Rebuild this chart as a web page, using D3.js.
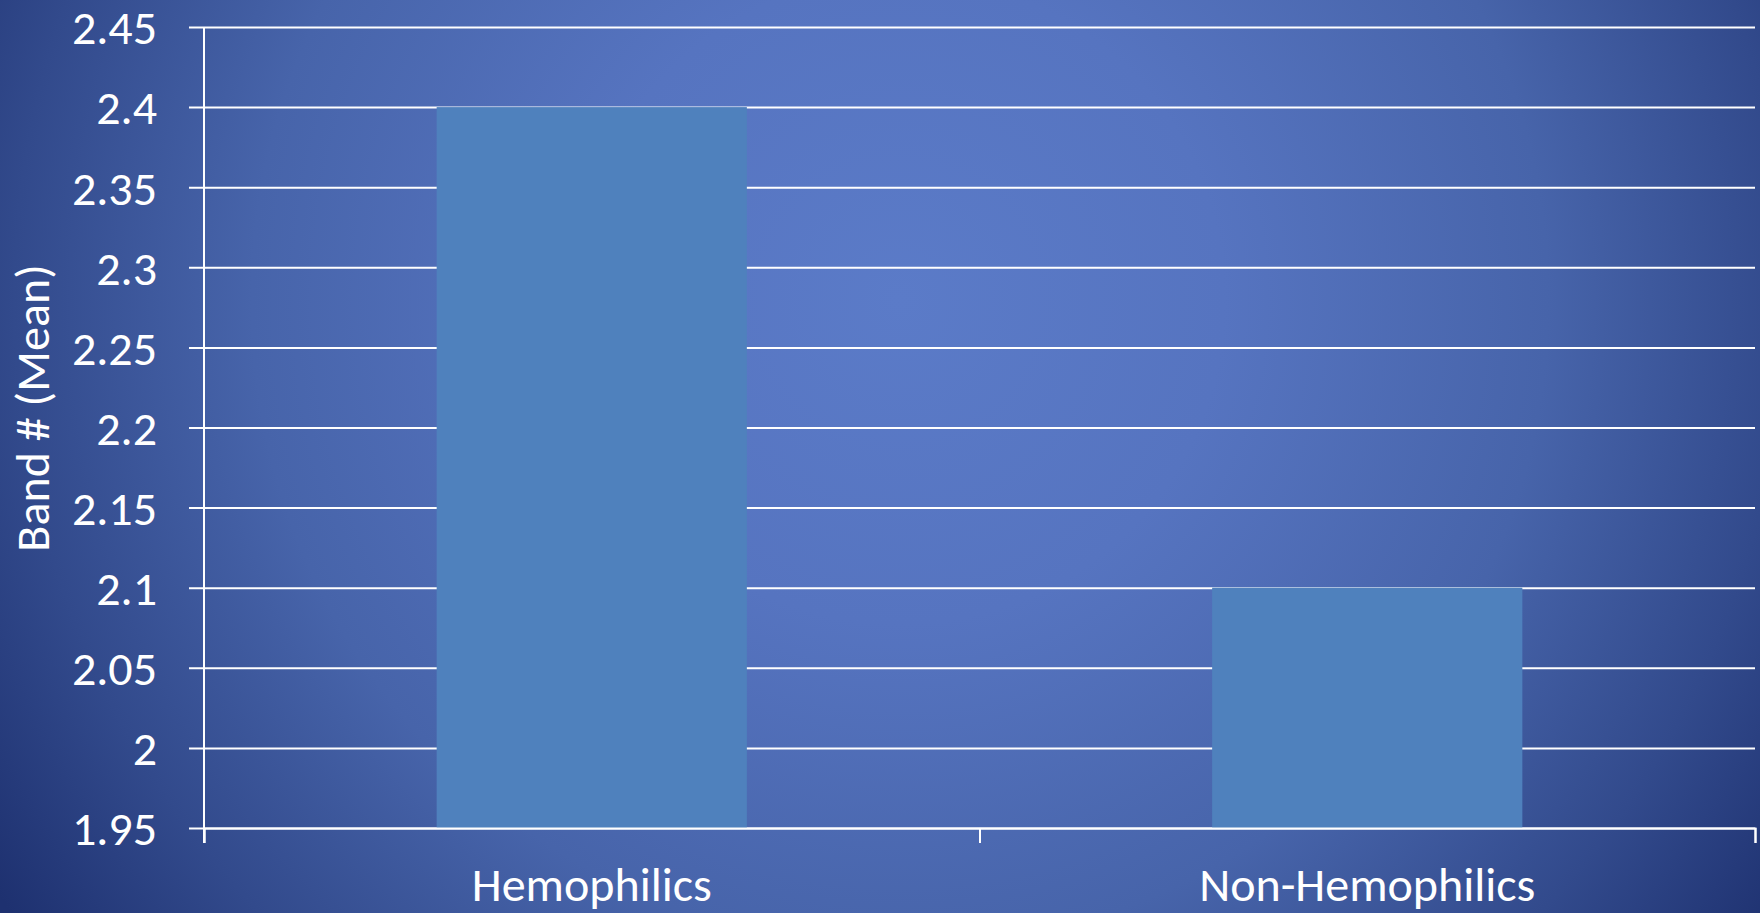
<!DOCTYPE html>
<html>
<head>
<meta charset="utf-8">
<script src="https://cdn.jsdelivr.net/npm/d3@7"></script>
<style>
  html, body { margin: 0; padding: 0; background: #1f3271; overflow: hidden; }
  svg { display: block; }
  .lbl { font-family: Carlito, Calibri, Lato, "Open Sans", sans-serif; fill: #ffffff; }
</style>
</head>
<body>
<svg id="chart" width="1760" height="913"></svg>
<script>
// Mean band number per group
const categories = ["Hemophilics", "Non-Hemophilics"];
const values = [2.4, 2.1];
const yTicks = [1.95, 2, 2.05, 2.1, 2.15, 2.2, 2.25, 2.3, 2.35, 2.4, 2.45];
const yTickLabels = ["1.95", "2", "2.05", "2.1", "2.15", "2.2", "2.25", "2.3", "2.35", "2.4", "2.45"];
const yTitle = "Band # (Mean)";

const W = 1760, H = 913;
const margin = { top: 27, right: 5, bottom: 85, left: 204 };
const pw = W - margin.left - margin.right;
const ph = H - margin.top - margin.bottom;
const fontSize = "48px";

const svg = d3.select("#chart");

// Slide-style radial background
const defs = svg.append("defs");
const grad = defs.append("radialGradient")
  .attr("id", "bg")
  .attr("gradientUnits", "userSpaceOnUse")
  .attr("cx", 900).attr("cy", 300).attr("r", 1080);
[[0, "#5b7bc8"], [0.3, "#5674c0"], [0.6, "#4764aa"], [0.82, "#324a8c"], [1, "#1e3170"]]
  .forEach(([o, c]) => grad.append("stop").attr("offset", o).attr("stop-color", c));
svg.append("rect").attr("width", W).attr("height", H).attr("fill", "url(#bg)");

const g = svg.append("g").attr("transform", `translate(${margin.left},${margin.top})`);

const y = d3.scaleLinear().domain([1.95, 2.45]).range([ph, 0]);
const x = d3.scaleBand().domain(categories).range([0, pw]).paddingInner(0.6).paddingOuter(0.3);
const xEdges = d3.scaleLinear().domain([0, categories.length]).range([0, pw]);

// Horizontal gridlines with short outward ticks
const yAxis = g.append("g")
  .call(d3.axisLeft(y).tickValues(yTicks).tickSize(-pw).tickFormat((d, i) => yTickLabels[i]));
yAxis.select(".domain").remove();
yAxis.selectAll(".tick line")
  .attr("x1", -15)
  .attr("stroke", "#ffffff").attr("stroke-width", 2);
yAxis.selectAll(".tick text")
  .attr("class", "lbl")
  .attr("x", -47)
  .attr("dy", "0.35em")
  .style("font-size", fontSize)
  .attr("text-anchor", "end");

// Bars
g.selectAll("rect.bar")
  .data(categories)
  .join("rect")
  .attr("class", "bar")
  .attr("x", d => x(d))
  .attr("width", x.bandwidth())
  .attr("y", (d, i) => y(values[i]))
  .attr("height", (d, i) => y(1.95) - y(values[i]))
  .attr("fill", "#4f81bd");

// Vertical axis line
g.append("line")
  .attr("x1", 0).attr("x2", 0)
  .attr("y1", 0).attr("y2", ph + 15)
  .attr("stroke", "#ffffff").attr("stroke-width", 2);

// Category axis: line plus boundary ticks
const xAxis = g.append("g")
  .attr("transform", `translate(0,${ph})`)
  .call(d3.axisBottom(xEdges).tickValues(d3.range(categories.length + 1)).tickSize(15).tickFormat(""));
xAxis.select(".domain").attr("stroke", "#ffffff").attr("stroke-width", 2);
xAxis.selectAll(".tick line").attr("stroke", "#ffffff").attr("stroke-width", 2);

// Category labels
const xLabels = g.append("g")
  .attr("transform", `translate(0,${ph})`)
  .call(d3.axisBottom(x).tickSize(0).tickPadding(0));
xLabels.select(".domain").remove();
xLabels.selectAll(".tick text")
  .attr("class", "lbl")
  .attr("y", 73)
  .attr("dy", 0)
  .style("font-size", fontSize);

// Axis title
svg.append("text")
  .attr("class", "lbl")
  .attr("transform", "translate(49,408) rotate(-90)")
  .attr("text-anchor", "middle")
  .style("font-size", fontSize)
  .text(yTitle);
</script>
</body>
</html>
